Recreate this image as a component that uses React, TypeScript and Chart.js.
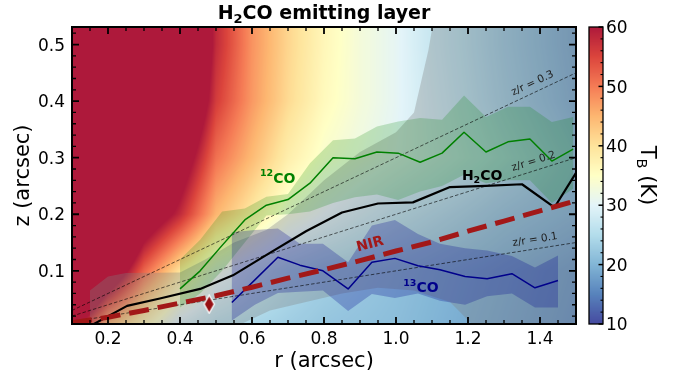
import { useEffect, useRef } from 'react';
import { Chart, registerables } from 'chart.js';

Chart.register(...registerables);

// Axis ranges (arcsec) and colour-scale range (K)
const R_MIN = 0.1;
const R_MAX = 1.5;
const Z_MIN = 0.006;
const Z_MAX = 0.531;
const T_MIN = 10;
const T_MAX = 60;

const rTickValues = [0.2, 0.4, 0.6, 0.8, 1.0, 1.2, 1.4];
const zTickValues = [0.1, 0.2, 0.3, 0.4, 0.5];
const tTickValues = [10, 20, 30, 40, 50, 60];

// Model brightness-temperature field on a regular r–z grid (K)
const fieldR = [0.1, 0.2, 0.3, 0.4, 0.5, 0.6, 0.7, 0.8, 0.9, 1.0, 1.1, 1.2, 1.3, 1.4, 1.5];
const fieldZ = [0.0, 0.1, 0.2, 0.3, 0.4, 0.5, 0.6];
const tempAtZ00 = [63, 44, 36, 28, 25, 24, 23, 22, 21.5, 21, 20, 19, 18, 17, 16];
const tempAtZ01 = [90, 70, 52, 40, 32, 28, 25, 23.5, 22.5, 21.5, 20.5, 19.5, 18.5, 17.5, 16.5];
const tempAtZ02 = [100, 90, 68, 58, 45, 39, 33, 30, 27.5, 25.5, 24, 22.5, 21, 20, 19];
const tempAtZ03 = [100, 95, 85, 66, 51, 44.5, 38, 34, 32, 30, 28, 26, 24, 22, 20];
const tempAtZ04 = [100, 100, 95, 75, 56, 47.5, 41, 36, 33, 30.5, 27.5, 25, 22.5, 20.5, 18.5];
const tempAtZ05 = [100, 100, 100, 80, 58, 48, 41.5, 36.5, 33, 30.5, 27, 24.5, 22, 20, 18];
const tempAtZ06 = [100, 100, 100, 80, 58, 48, 41.5, 36.5, 33, 30.5, 27, 24.5, 22, 20, 18];
const fieldT = [tempAtZ00, tempAtZ01, tempAtZ02, tempAtZ03, tempAtZ04, tempAtZ05, tempAtZ06];

// 12CO emitting surface with its spread
const co12R = [0.4, 0.456, 0.517, 0.58, 0.64, 0.7, 0.761, 0.825, 0.886, 0.947, 1.006, 1.067, 1.128, 1.189, 1.25, 1.311, 1.372, 1.433, 1.492];
const co12Z = [0.068, 0.1, 0.145, 0.19, 0.216, 0.226, 0.255, 0.3, 0.298, 0.31, 0.308, 0.292, 0.308, 0.345, 0.31, 0.328, 0.333, 0.294, 0.315];
const co12Hi = [0.12, 0.155, 0.205, 0.21, 0.231, 0.236, 0.29, 0.331, 0.334, 0.355, 0.364, 0.37, 0.367, 0.41, 0.372, 0.39, 0.39, 0.363, 0.372];
const co12Lo = [0.035, 0.06, 0.1, 0.15, 0.198, 0.2, 0.205, 0.22, 0.23, 0.235, 0.225, 0.24, 0.25, 0.27, 0.255, 0.26, 0.26, 0.22, 0.245];

// 13CO emitting surface with its spread
const co13R = [0.544, 0.608, 0.672, 0.733, 0.797, 0.867, 0.933, 0.997, 1.061, 1.122, 1.192, 1.253, 1.322, 1.386, 1.45];
const co13Z = [0.044, 0.084, 0.124, 0.11, 0.1, 0.068, 0.115, 0.122, 0.109, 0.102, 0.09, 0.086, 0.095, 0.07, 0.083];
const co13Hi = [0.168, 0.172, 0.175, 0.148, 0.148, 0.115, 0.18, 0.19, 0.165, 0.148, 0.14, 0.136, 0.126, 0.106, 0.127];
const co13Lo = [0.012, 0.04, 0.061, 0.063, 0.065, 0.029, 0.059, 0.052, 0.06, 0.047, 0.04, 0.055, 0.06, 0.035, 0.035];

// H2CO emitting surface and the envelope of its spread
const h2coR = [0.155, 0.253, 0.344, 0.456, 0.547, 0.645, 0.75, 0.85, 0.95, 1.047, 1.15, 1.25, 1.35, 1.44, 1.5];
const h2coZ = [0.004, 0.038, 0.051, 0.068, 0.092, 0.13, 0.17, 0.203, 0.219, 0.221, 0.248, 0.25, 0.253, 0.212, 0.273];
const h2coHiR = [0.15, 0.2, 0.25, 0.4, 0.47, 0.55, 0.64, 0.7, 0.8, 0.9, 1.0, 1.05, 1.09, 1.12, 1.5];
const h2coHiZ = [0.065, 0.09, 0.096, 0.097, 0.12, 0.15, 0.172, 0.2, 0.26, 0.31, 0.345, 0.38, 0.49, 0.6, 0.6];
const h2coLoR = [0.15, 0.55, 0.65, 0.75, 0.85, 0.95, 1.05, 1.15, 1.22, 1.5];
const h2coLoZ = [0.0, 0.0, 0.03, 0.045, 0.06, 0.07, 0.065, 0.045, 0.0, 0.0];

// Scattering surface from near-infrared imaging
const nirR = [0.1, 0.2, 0.3, 0.4, 0.5, 0.6, 0.7, 0.8, 0.9, 1.0, 1.1, 1.2, 1.3, 1.4, 1.5];
const nirZ = [0.008, 0.018, 0.03, 0.043, 0.056, 0.071, 0.087, 0.102, 0.118, 0.135, 0.151, 0.17, 0.188, 0.206, 0.224];

// Constant aspect-ratio reference lines
const zrRatios = [0.1, 0.2, 0.3];

// Single marked position
const markerR = [0.481];
const markerZ = [0.041];

const FONT = "'DejaVu Sans', 'Liberation Sans', sans-serif";
const CO12_COLOR = '#008000';
const CO13_COLOR = '#00008b';
const NIR_COLOR = '#a21818';

// RdYlBu reversed, as used for the temperature colour scale
const RDYLBU_R = ['#313695', '#4575b4', '#74add1', '#abd9e9', '#e0f3f8', '#ffffbf', '#fee090', '#fdae61', '#f46d43', '#d73027', '#a50026']
  .map((h) => [parseInt(h.slice(1, 3), 16), parseInt(h.slice(3, 5), 16), parseInt(h.slice(5, 7), 16)]);

function tempColor(t: number): number[] {
  const n = RDYLBU_R.length;
  const u = Math.min(1, Math.max(0, (t - T_MIN) / (T_MAX - T_MIN))) * (n - 1);
  const i = Math.min(n - 2, Math.floor(u));
  const f = u - i;
  return [0, 1, 2].map((c) => Math.round(RDYLBU_R[i][c] * (1 - f) + RDYLBU_R[i + 1][c] * f));
}

function segIndex(grid: number[], v: number): number {
  for (let i = 0; i < grid.length - 2; i++) if (v < grid[i + 1]) return i;
  return grid.length - 2;
}

function fieldTemp(r: number, z: number): number {
  const i = segIndex(fieldR, r);
  const j = segIndex(fieldZ, z);
  const fr = Math.min(1, Math.max(0, (r - fieldR[i]) / (fieldR[i + 1] - fieldR[i])));
  const fz = Math.min(1, Math.max(0, (z - fieldZ[j]) / (fieldZ[j + 1] - fieldZ[j])));
  const lo = fieldT[j][i] * (1 - fr) + fieldT[j][i + 1] * fr;
  const hi = fieldT[j + 1][i] * (1 - fr) + fieldT[j + 1][i + 1] * fr;
  return lo * (1 - fz) + hi * fz;
}

type Run = { text: string; size: number; dy: number };

function drawRuns(ctx: CanvasRenderingContext2D, runs: Run[], x: number, y: number, weight: string, color: string, align: 'left' | 'center') {
  let w = 0;
  for (const r of runs) {
    ctx.font = `${weight} ${r.size}px ${FONT}`;
    w += ctx.measureText(r.text).width;
  }
  let cx = align === 'center' ? x - w / 2 : x;
  ctx.fillStyle = color;
  ctx.textAlign = 'left';
  ctx.textBaseline = 'alphabetic';
  for (const r of runs) {
    ctx.font = `${weight} ${r.size}px ${FONT}`;
    ctx.fillText(r.text, cx, y + r.dy);
    cx += ctx.measureText(r.text).width;
  }
}

const pts = (rs: number[], zs: number[]) => rs.map((r, i) => ({ x: r, y: zs[i] }));

function makeDiamond(): HTMLCanvasElement {
  const c = document.createElement('canvas');
  c.width = 13;
  c.height = 20;
  const g = c.getContext('2d')!;
  g.beginPath();
  g.moveTo(6.5, 1);
  g.lineTo(11.6, 10);
  g.lineTo(6.5, 19);
  g.lineTo(1.4, 10);
  g.closePath();
  g.fillStyle = '#960e12';
  g.fill();
  g.strokeStyle = '#ffffff';
  g.lineWidth = 1.3;
  g.stroke();
  return c;
}

const diskPlugin = {
  id: 'diskLayer',
  beforeDraw(chart: any) {
    const { ctx, width, height } = chart;
    ctx.save();
    ctx.fillStyle = '#ffffff';
    ctx.fillRect(0, 0, width, height);
    ctx.restore();
  },
  beforeDatasetsDraw(chart: any) {
    const { ctx, chartArea: a, scales } = chart;
    const xs = scales.x;
    const ys = scales.y;
    const w = Math.round(a.right - a.left);
    const h = Math.round(a.bottom - a.top);
    const off = document.createElement('canvas');
    off.width = w;
    off.height = h;
    const octx = off.getContext('2d')!;
    const img = octx.createImageData(w, h);
    for (let py = 0; py < h; py++) {
      const z = ys.getValueForPixel(a.top + py + 0.5);
      for (let px = 0; px < w; px++) {
        const r = xs.getValueForPixel(a.left + px + 0.5);
        const c = tempColor(fieldTemp(r, z));
        const k = (py * w + px) * 4;
        img.data[k] = c[0];
        img.data[k + 1] = c[1];
        img.data[k + 2] = c[2];
        img.data[k + 3] = 230;
      }
    }
    octx.putImageData(img, 0, 0);
    ctx.drawImage(off, a.left, a.top);
  },
  afterDraw(chart: any) {
    const { ctx, chartArea: a, scales } = chart;
    const xs = scales.x;
    const ys = scales.y;
    ctx.save();

    // aspect-ratio line labels
    for (const k of zrRatios) {
      const p0x = xs.getPixelForValue(R_MIN), p0y = ys.getPixelForValue(k * R_MIN);
      const p1x = xs.getPixelForValue(R_MAX), p1y = ys.getPixelForValue(k * R_MAX);
      const ang = Math.atan2(p1y - p0y, p1x - p0x);
      const lx = xs.getPixelForValue(1.39);
      const ly = ys.getPixelForValue(k * 1.39);
      ctx.save();
      ctx.translate(lx + Math.sin(ang) * 9, ly - Math.cos(ang) * 9);
      ctx.rotate(ang);
      ctx.font = `10.5px ${FONT}`;
      ctx.fillStyle = '#1e1e1e';
      ctx.textAlign = 'center';
      ctx.textBaseline = 'middle';
      ctx.fillText(`z/r = ${k}`, 0, 0);
      ctx.restore();
    }

    // NIR label, aligned with the local slope of the surface
    {
      const lr = 0.928;
      const i = segIndex(nirR, lr);
      const ang = Math.atan2(ys.getPixelForValue(nirZ[i + 1]) - ys.getPixelForValue(nirZ[i]), xs.getPixelForValue(nirR[i + 1]) - xs.getPixelForValue(nirR[i]));
      ctx.save();
      ctx.translate(xs.getPixelForValue(lr), ys.getPixelForValue(0.1465));
      ctx.rotate(ang);
      ctx.font = `bold 14px ${FONT}`;
      ctx.fillStyle = NIR_COLOR;
      ctx.textAlign = 'center';
      ctx.textBaseline = 'middle';
      ctx.fillText('NIR', 0, 0);
      ctx.restore();
    }

    // molecule labels
    drawRuns(ctx, [{ text: '12', size: 9.5, dy: -6.4 }, { text: 'CO', size: 14, dy: 0 }], xs.getPixelForValue(0.622), ys.getPixelForValue(0.2555), 'bold', CO12_COLOR, 'left');
    drawRuns(ctx, [{ text: 'H', size: 14, dy: 0 }, { text: '2', size: 9.5, dy: 3 }, { text: 'CO', size: 14, dy: 0 }], xs.getPixelForValue(1.183), ys.getPixelForValue(0.26), 'bold', '#000000', 'left');
    drawRuns(ctx, [{ text: '13', size: 9.5, dy: -6.4 }, { text: 'CO', size: 14, dy: 0 }], xs.getPixelForValue(1.02), ys.getPixelForValue(0.0618), 'bold', CO13_COLOR, 'left');

    // frame and inward ticks
    ctx.strokeStyle = '#000000';
    ctx.lineCap = 'butt';
    for (let k = 2; k <= 30; k++) {
      const px = xs.getPixelForValue(k * 0.05);
      const major = k % 4 === 0;
      const len = major ? 7 : 4;
      ctx.lineWidth = major ? 1.8 : 1.3;
      ctx.beginPath();
      ctx.moveTo(px, a.bottom);
      ctx.lineTo(px, a.bottom - len);
      ctx.moveTo(px, a.top);
      ctx.lineTo(px, a.top + len);
      ctx.stroke();
    }
    for (let k = 1; k <= 26; k++) {
      const py = ys.getPixelForValue(k * 0.02);
      const major = k % 5 === 0;
      const len = major ? 7 : 4;
      ctx.lineWidth = major ? 1.8 : 1.3;
      ctx.beginPath();
      ctx.moveTo(a.left, py);
      ctx.lineTo(a.left + len, py);
      ctx.moveTo(a.right, py);
      ctx.lineTo(a.right - len, py);
      ctx.stroke();
    }
    ctx.lineWidth = 2;
    ctx.strokeRect(a.left, a.top, a.right - a.left, a.bottom - a.top);

    // tick labels
    ctx.fillStyle = '#000000';
    ctx.font = `17px ${FONT}`;
    ctx.textBaseline = 'alphabetic';
    ctx.textAlign = 'center';
    for (const v of rTickValues) ctx.fillText(v.toFixed(1), xs.getPixelForValue(v), a.bottom + 20);
    ctx.textAlign = 'right';
    for (const v of zTickValues) ctx.fillText(v.toFixed(1), a.left - 7, ys.getPixelForValue(v) + 6.2);

    // axis titles
    ctx.font = `21px ${FONT}`;
    ctx.textAlign = 'center';
    ctx.fillText('r (arcsec)', (a.left + a.right) / 2, 367);
    ctx.save();
    ctx.translate(29, (a.top + a.bottom) / 2);
    ctx.rotate(-Math.PI / 2);
    ctx.fillText('z (arcsec)', 0, 0);
    ctx.restore();

    // title
    drawRuns(ctx, [{ text: 'H', size: 19, dy: 0 }, { text: '2', size: 13, dy: 4 }, { text: 'CO emitting layer', size: 19, dy: 0 }], (a.left + a.right) / 2, 19, 'bold', '#000000', 'center');

    // colour bar
    const cbX = Math.round(a.right) + 13;
    const cbW = 14;
    const cbTop = Math.round(a.top);
    const cbBot = Math.round(a.bottom);
    for (let py = cbTop; py < cbBot; py++) {
      const t = T_MAX - ((py + 0.5 - cbTop) / (cbBot - cbTop)) * (T_MAX - T_MIN);
      const c = tempColor(t);
      ctx.fillStyle = `rgba(${c[0]},${c[1]},${c[2]},0.9)`;
      ctx.fillRect(cbX, py, cbW, 1);
    }
    const tPix = (t: number) => cbBot - ((t - T_MIN) / (T_MAX - T_MIN)) * (cbBot - cbTop);
    ctx.strokeStyle = '#000000';
    for (let t = T_MIN; t <= T_MAX; t += 2) {
      const major = t % 10 === 0;
      ctx.lineWidth = major ? 1.5 : 1.1;
      ctx.beginPath();
      ctx.moveTo(cbX + cbW, tPix(t));
      ctx.lineTo(cbX + cbW - (major ? 4.5 : 2.5), tPix(t));
      ctx.stroke();
    }
    ctx.lineWidth = 1.3;
    ctx.strokeRect(cbX, cbTop, cbW, cbBot - cbTop);
    ctx.fillStyle = '#000000';
    ctx.font = `17px ${FONT}`;
    ctx.textAlign = 'left';
    for (const t of tTickValues) ctx.fillText(String(t), cbX + cbW + 3, tPix(t) + 6.2);

    ctx.save();
    ctx.translate(641, (cbTop + cbBot) / 2);
    ctx.rotate(Math.PI / 2);
    drawRuns(ctx, [{ text: 'T', size: 21, dy: 0 }, { text: 'B', size: 14.5, dy: 4 }, { text: ' (K)', size: 21, dy: 0 }], 0, 0, 'normal', '#000000', 'center');
    ctx.restore();

    ctx.restore();
  },
};

export default function App() {
  const ref = useRef<HTMLCanvasElement>(null);

  useEffect(() => {
    document.body.style.margin = '0';
    const canvas = ref.current!;
    const diamond = makeDiamond();

    const shape = (data: any[], color: string, order: number) => ({
      data,
      backgroundColor: color,
      borderColor: 'rgba(0,0,0,0)',
      borderWidth: 0,
      fill: 'shape',
      pointRadius: 0,
      order,
      clip: 0,
    });
    const line = (data: any[], color: string, width: number, order: number, dash: number[] = []) => ({
      data,
      borderColor: color,
      borderWidth: width,
      borderDash: dash,
      borderJoinStyle: 'round',
      fill: false,
      pointRadius: 0,
      order,
      clip: 0,
    });

    const h2coBand = [...pts(h2coHiR, h2coHiZ), ...pts(h2coLoR, h2coLoZ).reverse()];
    const co12Band = [...pts(co12R, co12Hi), ...pts(co12R, co12Lo).reverse()];
    const co13Band = [...pts(co13R, co13Hi), ...pts(co13R, co13Lo).reverse()];

    const datasets: any[] = [
      shape(h2coBand, 'rgba(128,128,128,0.33)', 30),
      shape(co12Band, 'rgba(0,128,0,0.2)', 29),
      shape(co13Band, 'rgba(0,0,139,0.25)', 28),
      ...zrRatios.map((k) => line([{ x: R_MIN, y: k * R_MIN }, { x: R_MAX, y: k * R_MAX }], 'rgba(0,0,0,0.75)', 0.8, 20, [3.5, 2])),
      line(pts(co12R, co12Z), CO12_COLOR, 1.5, 10),
      line(pts(co13R, co13Z), CO13_COLOR, 1.5, 9),
      line(pts(h2coR, h2coZ), '#000000', 2.2, 8),
      line(pts(nirR, nirZ), NIR_COLOR, 5, 5, [20, 9]),
      {
        data: pts(markerR, markerZ),
        showLine: false,
        pointStyle: diamond,
        pointRadius: 9,
        order: 1,
        clip: 0,
      },
    ];

    const chart = new Chart(canvas, {
      type: 'line',
      data: { datasets },
      options: {
        responsive: false,
        animation: false,
        devicePixelRatio: 1,
        events: [],
        layout: { padding: { top: 27, right: 105, bottom: 0, left: 0 } },
        plugins: { legend: { display: false }, tooltip: { enabled: false }, title: { display: false } },
        elements: { line: { tension: 0 } },
        scales: {
          x: {
            type: 'linear',
            min: R_MIN,
            max: R_MAX,
            grid: { display: false, drawTicks: false },
            border: { display: false },
            ticks: { display: false },
            afterFit: (s: any) => { s.height = 54; },
          },
          y: {
            type: 'linear',
            min: Z_MIN,
            max: Z_MAX,
            grid: { display: false, drawTicks: false },
            border: { display: false },
            ticks: { display: false },
            afterFit: (s: any) => { s.width = 72; },
          },
        },
      } as any,
      plugins: [diskPlugin],
    });

    return () => chart.destroy();
  }, []);

  return (
    <div style={{ width: 681, height: 378 }}>
      <canvas ref={ref} width={681} height={378} style={{ display: 'block', width: 681, height: 378 }} />
    </div>
  );
}
